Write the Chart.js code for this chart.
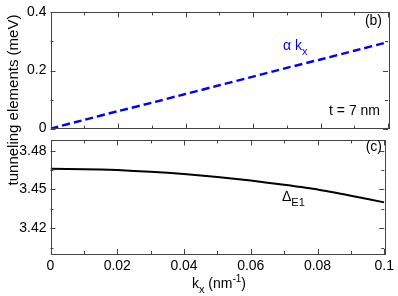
<!DOCTYPE html>
<html>
<head>
<meta charset="utf-8">
<script src="https://cdn.jsdelivr.net/npm/chart.js@4.4.1/dist/chart.umd.min.js"></script>
<style>
  body { margin: 0; background: #fff; font-family: "Liberation Sans", Arial, sans-serif; }
  #wrap { position: relative; width: 398px; height: 296px; overflow: hidden; }
  canvas { position: absolute; left: 0; }
  .lbl { position: absolute; font-size: 14px; line-height: 14px; color: #000; white-space: nowrap; }
  .sub { font-size: 11px; position: relative; top: 5px; }
  .sup { font-size: 10px; position: relative; top: -6px; }
</style>
</head>
<body>
<div id="wrap">
  <canvas id="topChart" width="398" height="141" style="top:0"></canvas>
  <canvas id="botChart" width="398" height="168" style="top:128px"></canvas>

  <div class="lbl" style="right:16px; top:13px">(b)</div>
  <div class="lbl" style="left:283px; top:38px; color:#0000ff">&alpha; k<span class="sub">x</span></div>
  <div class="lbl" style="right:18px; top:103px">t = 7 nm</div>
  <div class="lbl" style="right:16px; top:139px">(c)</div>
  <div class="lbl" style="left:282px; top:189px">&Delta;<span class="sub">E1</span></div>
  <div class="lbl" style="left:-107px; top:92px; width:240px; height:16px; font-size:15px; line-height:16px; text-align:center; transform:rotate(-90deg)">tunneling elements (meV)</div>
  <div class="lbl" style="left:119px; top:276px; width:200px; text-align:center">k<span class="sub">x</span> (nm<span class="sup">-1</span>)</div>
</div>

<script>
// wave vector k_x (nm^-1)
const kx = [0, 0.01, 0.02, 0.03, 0.04, 0.05, 0.06, 0.07, 0.08, 0.09, 0.1];
// panel (b): alpha * k_x (meV)
const alphaKx = [0, 0.030, 0.060, 0.089, 0.119, 0.149, 0.179, 0.209, 0.238, 0.268, 0.298];
// panel (c): Delta_E1 (meV)
const deltaE1 = [3.4660, 3.4657, 3.4650, 3.4637, 3.4620, 3.4597, 3.4569, 3.4536, 3.4500, 3.4452, 3.4400];

const xTicks = [0, 0.02, 0.04, 0.06, 0.08, 0.1];
const topYTicks = [0, 0.2, 0.4];
const botYTicks = [3.42, 3.45, 3.48];

const tickFont = { family: "'Liberation Sans', Arial, sans-serif", size: 14 };

// minor ticks halfway between the major ones
function minorOf(major, min, max) {
    const step = major[1] - major[0];
    const out = [];
    for (let i = -1; i < major.length; i++) {
        const v = major[0] + (i + 0.5) * step;
        if (v > min + 1e-9 && v < max - 1e-9) out.push(v);
    }
    return out;
}

// closed frame with inward ticks on all four sides
const framePlugin = {
    id: 'frame',
    afterDraw(chart, args, opts) {
        const { ctx, chartArea: a } = chart;
        const xs = chart.scales.x, ys = chart.scales.y;
        ctx.save();
        ctx.strokeStyle = '#444';
        ctx.lineWidth = 1;
        ctx.strokeRect(Math.round(a.left) + 0.5, Math.round(a.top) + 0.5,
            Math.round(a.right - a.left), Math.round(a.bottom - a.top));
        ctx.beginPath();
        const xt = (vals, len) => vals.forEach(v => {
            const p = Math.round(xs.getPixelForValue(v)) + 0.5;
            ctx.moveTo(p, a.bottom); ctx.lineTo(p, a.bottom - len);
            ctx.moveTo(p, a.top); ctx.lineTo(p, a.top + len);
        });
        const yt = (vals, len) => vals.forEach(v => {
            const p = Math.round(ys.getPixelForValue(v)) + 0.5;
            ctx.moveTo(a.left, p); ctx.lineTo(a.left + len, p);
            ctx.moveTo(a.right, p); ctx.lineTo(a.right - len, p);
        });
        xt(xTicks, 5);
        xt(minorOf(xTicks, xs.min, xs.max), 3);
        yt(opts.yTicks, 5);
        yt(minorOf(opts.yTicks, ys.min, ys.max), 3);
        ctx.stroke();
        ctx.restore();
    }
};

function makeChart(id, values, color, dash, width, yMin, yMax, yTicks, showX, padding) {
    const ctx = document.getElementById(id).getContext('2d');
    return new Chart(ctx, {
        type: 'line',
        data: {
            datasets: [{
                data: kx.map((k, i) => ({ x: k, y: values[i] })),
                borderColor: color,
                borderWidth: width,
                borderDash: dash,
                pointRadius: 0,
                fill: false,
                tension: 0.2,
            }],
        },
        options: {
            responsive: false,
            animation: false,
            devicePixelRatio: 1,
            layout: { padding: padding },
            plugins: {
                legend: { display: false },
                tooltip: { enabled: false },
                frame: { yTicks: yTicks },
            },
            scales: {
                x: {
                    type: 'linear',
                    min: 0,
                    max: 0.1,
                    grid: { display: false, drawTicks: false },
                    border: { display: false },
                    afterBuildTicks: s => { s.ticks = xTicks.map(v => ({ value: v })); },
                    afterFit: s => { s.height = showX ? 42 : 0; },
                    ticks: {
                        display: showX,
                        font: tickFont,
                        color: '#000',
                        padding: 4,
                        maxRotation: 0,
                        autoSkip: false,
                        callback: v => String(v),
                    },
                },
                y: {
                    type: 'linear',
                    min: yMin,
                    max: yMax,
                    grid: { display: false, drawTicks: false },
                    border: { display: false },
                    afterBuildTicks: s => { s.ticks = yTicks.map(v => ({ value: v })); },
                    afterFit: s => { s.width = 50.5; },
                    ticks: {
                        font: tickFont,
                        color: '#000',
                        padding: 4,
                        autoSkip: false,
                        callback: v => String(v),
                    },
                },
            },
        },
        plugins: [framePlugin],
    });
}

makeChart('topChart', alphaKx, '#0000ff', [8, 4], 2.5, 0, 0.4, topYTicks, false,
    { left: 0, right: 10, top: 6, bottom: 5 });
makeChart('botChart', deltaE1, '#000000', [], 2, 3.4, 3.488, botYTicks, true,
    { left: 0, right: 10, top: 5, bottom: 0 });
</script>
</body>
</html>
